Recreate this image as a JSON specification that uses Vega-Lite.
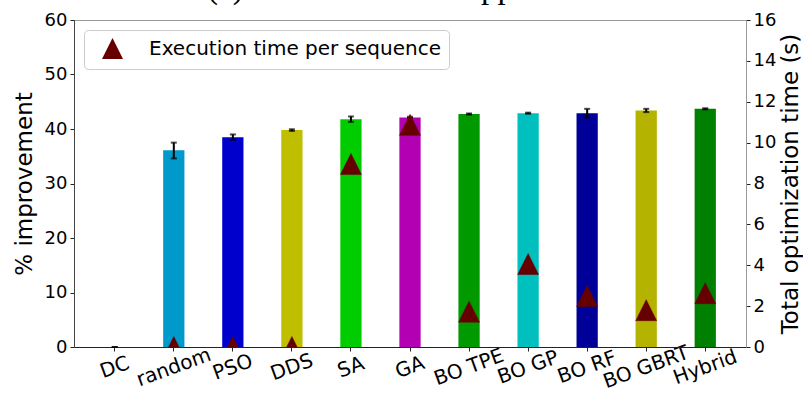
{
  "$schema": "https://vega.github.io/schema/vega-lite/v6.json",
  "width": 672,
  "height": 327,
  "autosize": "none",
  "padding": {"left": 74, "top": 20, "right": 57, "bottom": 49},
  "config": {
    "font": "DejaVu Sans",
    "view": {"stroke": "#999999", "strokeWidth": 1},
    "axis": {"grid": false, "labelFont": "DejaVu Sans", "titleFont": "DejaVu Sans", "labelFontSize": 18, "titleFontSize": 23, "labelColor": "#000000", "titleColor": "#000000", "titleFontWeight": "normal", "tickColor": "#222222", "domainColor": "#444444", "tickSize": 4, "labelPadding": 3}
  },
  "title": {"text": "(c) Neural network application", "font": "Liberation Serif", "fontSize": 33, "fontWeight": "normal", "baseline": "alphabetic", "offset": 0, "dy": 20, "anchor": "middle", "color": "#000000"},
  "data": {"values": [
    {"method": "DC", "imp": 0, "lo": 0, "hi": 0, "time": null},
    {"method": "random", "imp": 36.1, "lo": 34.6, "hi": 37.5, "time": 0},
    {"method": "PSO", "imp": 38.5, "lo": 38.0, "hi": 39.0, "time": 0},
    {"method": "DDS", "imp": 39.8, "lo": 39.65, "hi": 39.95, "time": 0},
    {"method": "SA", "imp": 41.8, "lo": 41.3, "hi": 42.3, "time": 8.95},
    {"method": "GA", "imp": 42.1, "lo": 42.0, "hi": 42.25, "time": 10.87},
    {"method": "BO TPE", "imp": 42.75, "lo": 42.65, "hi": 42.85, "time": 1.73},
    {"method": "BO GP", "imp": 42.9, "lo": 42.8, "hi": 43.0, "time": 4.06},
    {"method": "BO RF", "imp": 42.9, "lo": 42.1, "hi": 43.7, "time": 2.5},
    {"method": "BO GBRT", "imp": 43.4, "lo": 43.1, "hi": 43.7, "time": 1.8},
    {"method": "Hybrid", "imp": 43.7, "lo": 43.6, "hi": 43.8, "time": 2.63}
  ]},
  "encoding": {
    "x": {
      "field": "method", "type": "nominal", "sort": null,
      "scale": {"paddingInner": 0.64, "paddingOuter": 0.51},
      "axis": {
        "title": null, "labelAngle": -20, "labelAlign": "center", "labelBaseline": "middle",
        "labelPadding": 16, "labelFontSize": 20, "domainColor": "#222222",
        "encode": {"labels": {"update": {"dy": {"signal": "length(datum.label) * 2"}}}}
      }
    }
  },
  "layer": [
    {
      "layer": [
        {
          "mark": {"type": "bar"},
          "encoding": {
            "y": {"field": "imp", "type": "quantitative", "scale": {"domain": [0, 60]},
                  "axis": {"title": "% improvement", "values": [0, 10, 20, 30, 40, 50, 60], "titlePadding": 8}},
            "color": {"field": "method", "type": "nominal", "legend": null,
                      "scale": {"domain": ["DC", "random", "PSO", "DDS", "SA", "GA", "BO TPE", "BO GP", "BO RF", "BO GBRT", "Hybrid"],
                                "range": ["#000000", "#0099cc", "#0000cc", "#bfbf00", "#00cc00", "#b300b3", "#009900", "#00bfbf", "#000099", "#b3b300", "#008000"]}}
          }
        },
        {
          "mark": {"type": "rule", "color": "#000000", "strokeWidth": 2},
          "encoding": {"y": {"field": "lo", "type": "quantitative"}, "y2": {"field": "hi"}}
        },
        {
          "mark": {"type": "tick", "color": "#000000", "size": 6, "thickness": 2},
          "encoding": {"y": {"field": "lo", "type": "quantitative"}}
        },
        {
          "mark": {"type": "tick", "color": "#000000", "size": 6, "thickness": 2},
          "encoding": {"y": {"field": "hi", "type": "quantitative"}}
        }
      ]
    },
    {
      "mark": {"type": "point", "filled": true, "fill": "#660000", "stroke": "#660000", "strokeWidth": 0.5, "opacity": 1, "size": 441, "clip": true},
      "encoding": {
        "y": {"field": "time", "type": "quantitative", "scale": {"domain": [0, 16]},
              "axis": {"title": "Total optimization time (s)", "values": [0, 2, 4, 6, 8, 10, 12, 14, 16], "orient": "right", "titleAngle": 270, "titleBaseline": "top", "titlePadding": 4, "domainColor": "#999999"}},
        "shape": {"datum": "Execution time per sequence", "type": "nominal",
                  "scale": {"range": ["M0,-1L1,1L-1,1Z"]},
                  "legend": {"title": null, "orient": "top-left", "offset": 10, "padding": 7, "strokeColor": "#cccccc", "fillColor": "#ffffff", "cornerRadius": 4, "labelLimit": 0,
                             "labelFontSize": 20, "labelFont": "DejaVu Sans", "labelColor": "#000000", "symbolSize": 441, "symbolFillColor": "#660000", "symbolStrokeColor": "#660000", "symbolOffset": 10, "labelOffset": 25}}
      }
    }
  ],
  "resolve": {"scale": {"y": "independent"}}
}
